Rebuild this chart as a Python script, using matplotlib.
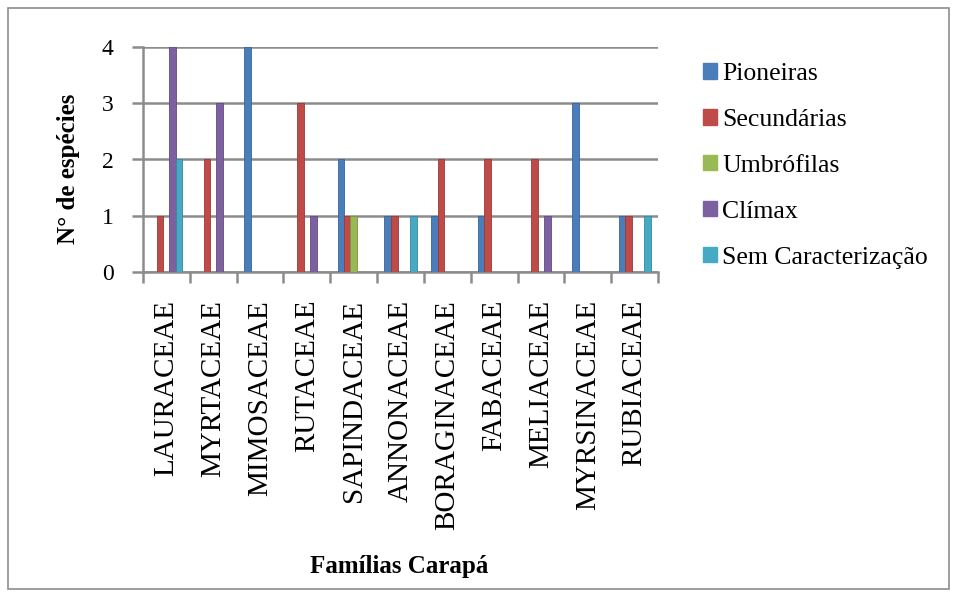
import matplotlib
matplotlib.use("Agg")
import matplotlib.pyplot as plt
from matplotlib.patches import Patch, Rectangle
import numpy as np

familias = ["LAURACEAE", "MYRTACEAE", "MIMOSACEAE", "RUTACEAE", "SAPINDACEAE",
            "ANNONACEAE", "BORAGINACEAE", "FABACEAE", "MELIACEAE", "MYRSINACEAE",
            "RUBIACEAE"]
series_names = ["Pioneiras", "Secundárias", "Umbrófilas", "Clímax", "Sem Caracterização"]
pioneiras    = [0, 0, 4, 0, 2, 1, 1, 1, 0, 3, 1]
secundarias  = [1, 2, 0, 3, 1, 1, 2, 2, 2, 0, 1]
umbrofilas   = [0, 0, 0, 0, 1, 0, 0, 0, 0, 0, 0]
climax       = [4, 3, 0, 1, 0, 0, 0, 0, 1, 0, 0]
sem_caract   = [2, 0, 0, 0, 0, 1, 0, 0, 0, 0, 1]
y_ticks = [0, 1, 2, 3, 4]

colors = ["#4A7EBB", "#BE4B48", "#98B954", "#7D60A0", "#46AAC5"]
edge_colors = ["#3A6598", "#983A38", "#7A9643", "#634A80", "#37889D"]

plt.rcParams['font.family'] = ['Liberation Serif', 'DejaVu Serif']

fig = plt.figure(figsize=(9.58, 5.95), dpi=100)
fig.patch.set_facecolor("white")
fig.patches.append(Rectangle((8/958, 1-589/595), 941/958, 581/595,
                             transform=fig.transFigure, fill=False,
                             edgecolor="#8C8C8C", linewidth=1.2))

ax = fig.add_axes([143/958, 1-272/595, 515/958, 225/595])
all_series = [pioneiras, secundarias, umbrofilas, climax, sem_caract]
x = np.arange(len(familias))
step = 0.135
width = 0.145
for i, vals in enumerate(all_series):
    ax.bar(x + (i - 2) * step, vals, width=width, color=colors[i],
           edgecolor=edge_colors[i], linewidth=0.6, zorder=3)

ax.set_xlim(-0.5, len(familias) - 0.5)
ax.set_ylim(0, 4)
ax.set_yticks(y_ticks)
ax.set_yticklabels([str(v) for v in y_ticks], fontsize=17)
ax.yaxis.grid(True, color="#8C8C8C", linewidth=1.8, zorder=0)
ax.set_axisbelow(True)
for s in ["top", "right"]:
    ax.spines[s].set_visible(False)
for s in ["left", "bottom"]:
    ax.spines[s].set_color("#8C8C8C")
    ax.spines[s].set_linewidth(1.8)

ax.set_xticks(x)
ax.set_xticklabels(familias, rotation=90, fontsize=21, va="top", ha="center")
ax.set_xticks(np.arange(-0.5, len(familias)), minor=True)
ax.tick_params(axis="x", which="major", length=0, pad=20)
ax.tick_params(axis="x", which="minor", length=8, width=1.8, color="#8C8C8C")
ax.tick_params(axis="y", length=8, width=1.8, color="#8C8C8C", pad=13)

fig.text(68/958, 1-169/595, "N° de espécies", rotation=90, fontsize=18,
         fontweight="bold", ha="center", va="center")
fig.text(399/958, 1-566/595, "Famílias Carapá", fontsize=18,
         fontweight="bold", ha="center", va="center")

handles = [Patch(facecolor=c, edgecolor=c) for c in colors]
fig.legend(handles, series_names, loc="upper left",
           bbox_to_anchor=(703/958, 1-63/595), frameon=False,
           borderaxespad=0, borderpad=0, fontsize=18.5,
           handlelength=0.55, handleheight=0.55, handletextpad=0.2,
           labelspacing=0.93)

fig.savefig("out.png", dpi=100, facecolor="white")
